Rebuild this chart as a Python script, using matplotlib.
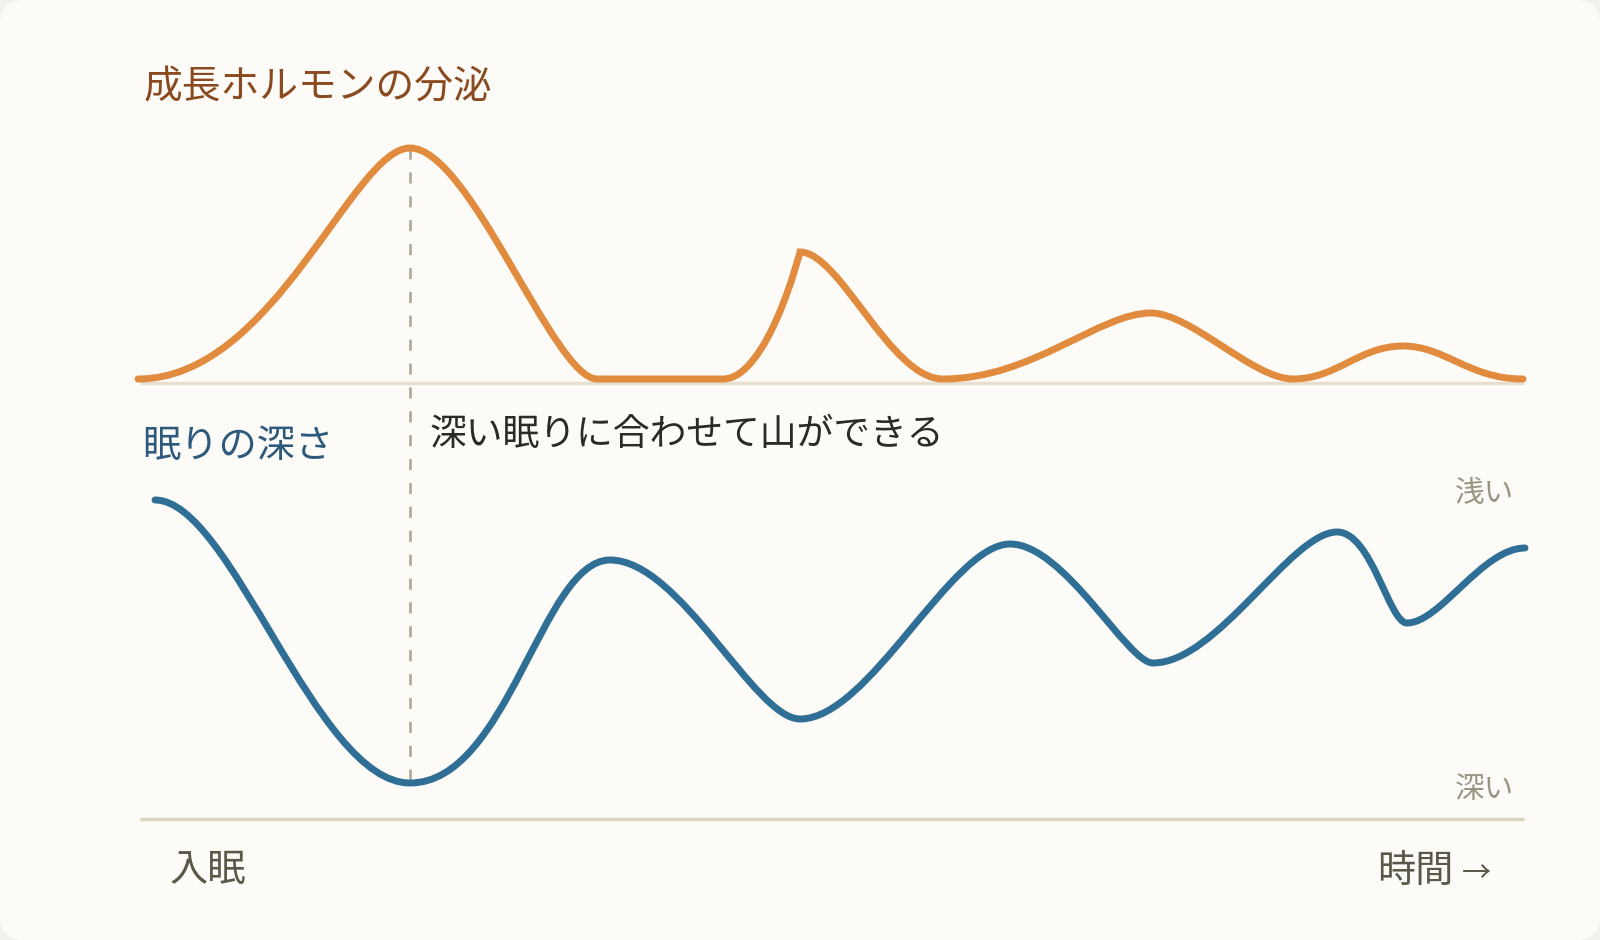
import matplotlib
matplotlib.use("Agg")
import matplotlib.pyplot as plt
import numpy as np
from matplotlib.path import Path
from matplotlib.patches import PathPatch, FancyBboxPatch

plt.rcParams['font.family'] = ['Noto Sans CJK JP', 'DejaVu Sans']

# turning points (x = time, y = canvas level, y down)
hormone_x = [138, 410, 597, 723, 800, 943, 1151, 1293, 1403, 1523]
hormone_y = [379, 148, 379, 379, 252, 379, 313, 379, 346, 379]

depth_x = [155, 410, 610, 800, 1010, 1153, 1337, 1407, 1525]
depth_y = [500, 783, 560, 719, 544, 663, 532, 623, 548]

# bezier handle lengths per segment (share of the segment width, out / in)
hormone_handles = [(0.50, 0.21), (0.32, 0.23), (0.33, 0.33), (0.58, 0.0),
                   (0.28, 0.37), (0.43, 0.25), (0.28, 0.28), (0.40, 0.40),
                   (0.35, 0.45)]
depth_handles = [(0.30, 0.37), (0.49, 0.34), (0.37, 0.24), (0.33, 0.28),
                 (0.38, 0.18), (0.35, 0.25), (0.50, 0.26), (0.28, 0.36)]

peak_x = 410          # first deep-sleep moment
peak_top = 148
peak_bottom = 783

title_text = "成長ホルモンの分泌"
depth_label = "眠りの深さ"
note_text = "深い眠りに合わせて山ができる"
shallow_label = "浅い"
deep_label = "深い"
start_label = "入眠"
time_label = "時間"
time_arrow = "→"


def smooth_path(xs, ys, handles):
    verts = [(xs[0], ys[0])]
    codes = [Path.MOVETO]
    for i, (a, b) in enumerate(handles):
        x0, y0, x1, y1 = xs[i], ys[i], xs[i + 1], ys[i + 1]
        dx = x1 - x0
        verts += [(x0 + a * dx, y0), (x1 - b * dx, y1), (x1, y1)]
        codes += [Path.CURVE4] * 3
    return Path(verts, codes)


fig = plt.figure(figsize=(16, 9.4), dpi=100, facecolor='#F3F1EC')
ax = fig.add_axes([0, 0, 1, 1])
ax.set_xlim(0, 1600)
ax.set_ylim(940, 0)
ax.axis('off')

card = FancyBboxPatch((0, 0), 1600, 940, boxstyle="round,pad=0,rounding_size=24",
                      facecolor='#FCFBF7', edgecolor='none')
ax.add_patch(card)

# baselines
ax.plot([140, 1524], [383, 383], color='#E7DECD', lw=2.4, solid_capstyle='butt')
ax.plot([140, 1524], [819, 819], color='#DCD4C1', lw=2.4, solid_capstyle='butt')

# dashed guide at the first deep sleep
ax.plot([peak_x, peak_x], [peak_top, peak_bottom], color='#B4AB9A', lw=2.0,
        linestyle=(0, (4.0, 4.6)), zorder=3)

ax.add_patch(PathPatch(smooth_path(hormone_x, hormone_y, hormone_handles), facecolor='none',
                       edgecolor='#E08B3D', lw=5, capstyle='round', joinstyle='miter', zorder=4))
ax.add_patch(PathPatch(smooth_path(depth_x, depth_y, depth_handles), facecolor='none',
                       edgecolor='#2F6E95', lw=5, capstyle='round', joinstyle='round', zorder=4))

ax.text(144, 87, title_text, fontsize=27.9, color='#8A4A1F', va='center', ha='left')
ax.text(142, 447, depth_label, fontsize=27.5, color='#2D5A7C', va='center', ha='left')
ax.text(430, 435, note_text, fontsize=26.5, color='#2A2B24', va='center', ha='left')
ax.text(1514, 494, shallow_label, fontsize=21.3, color='#9C9483', va='center', ha='right')
ax.text(1514, 789, deep_label, fontsize=21.3, color='#9C9483', va='center', ha='right')
ax.text(170, 871, start_label, fontsize=27.5, color='#5B5749', va='center', ha='left')
ax.text(1377, 871, time_label, fontsize=27.5, color='#5B5749', va='center', ha='left')
ax.text(1462, 874, time_arrow, fontsize=21, color='#5B5749', va='center', ha='left')

fig.savefig('out.png', dpi=100, facecolor=fig.get_facecolor())
